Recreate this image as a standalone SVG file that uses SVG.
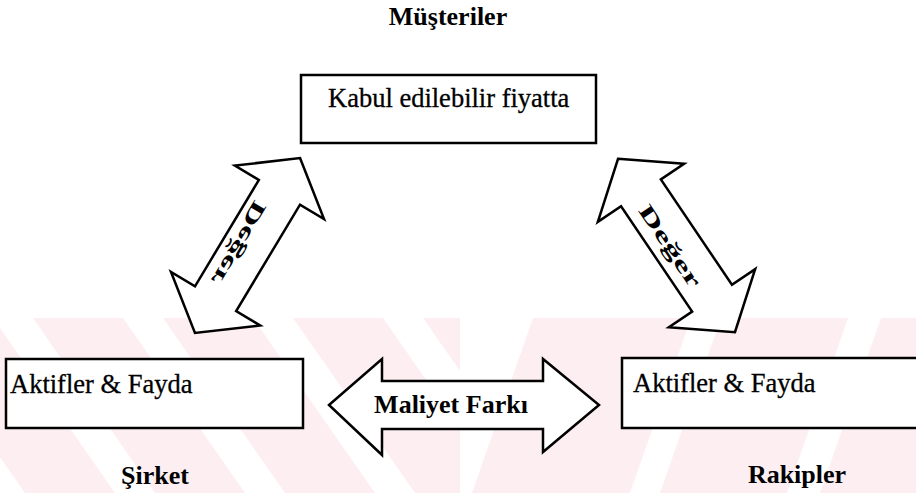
<svg xmlns="http://www.w3.org/2000/svg" width="916" height="493" viewBox="0 0 916 493">
<style>
.box{fill:#fff;stroke:#000;stroke-width:2.5}
.arr{fill:#fff;stroke:#000;stroke-width:2.5;stroke-linejoin:miter}
.t{font-family:"Liberation Serif","Times New Roman",serif;font-size:26.5px;fill:#000;stroke:#000;stroke-width:0.3}
.b{font-family:"Liberation Serif","Times New Roman",serif;font-size:26px;font-weight:bold;fill:#000}
.d{font-family:"Liberation Serif","Times New Roman",serif;font-size:21px;font-weight:bold;fill:#000}
.wm{fill:#fdeef1}
</style>
<defs>
<clipPath id="cl"><rect x="0" y="318" width="460" height="175"/></clipPath>
<clipPath id="cr"><rect x="460" y="318" width="456" height="175"/></clipPath>
<polygon id="dbl" points="-102,0 -62,-52 -62,-24 62,-24 62,-52 102,0 62,52 62,24 -62,24 -62,52"/>
</defs>
<rect width="916" height="493" fill="#fff"/>
<g id="watermark">
<g clip-path="url(#cl)">
<polygon class="wm" points="-97,318 -7,318 115,493 25,493"/>
<polygon class="wm" points="33,318 123,318 245,493 155,493"/>
<polygon class="wm" points="163,318 253,318 375,493 285,493"/>
<polygon class="wm" points="293,318 383,318 505,493 415,493"/>
<polygon class="wm" points="423,318 513,318 635,493 545,493"/>
</g>
<g clip-path="url(#cr)">
<polygon class="wm" points="533,318 691,318 630,493 472,493"/>
<polygon class="wm" points="721,318 848,318 787,493 660,493"/>
<polygon class="wm" points="881,318 1010,318 949,493 820,493"/>
</g>
</g>
<g id="title-musteriler"><text class="b" x="448" y="25" text-anchor="middle">Müşteriler</text></g>
<g id="node-kabul">
<rect class="box" x="301" y="75" width="295" height="68"/>
<text class="t" x="328" y="107">Kabul edilebilir fiyatta</text>
</g>
<g id="node-sirket">
<rect class="box" x="6" y="359" width="297" height="69"/>
<text class="t" x="10" y="393">Aktifler &amp; Fayda</text>
</g>
<g id="node-rakipler">
<rect class="box" x="622" y="358" width="300" height="70"/>
<text class="t" x="633" y="392">Aktifler &amp; Fayda</text>
</g>
<g id="label-sirket"><text class="b" x="155" y="484" text-anchor="middle">Şirket</text></g>
<g id="label-rakipler"><text class="b" x="797" y="483" text-anchor="middle">Rakipler</text></g>
<g id="connectors">
<g id="arrow-left">
<use href="#dbl" class="arr" transform="translate(247.5,245.5) rotate(121)"/>
<text class="d" transform="translate(237,242) scale(-1,1) rotate(59)" text-anchor="middle" y="7" textLength="92" lengthAdjust="spacingAndGlyphs">Değer</text>
</g>
<g id="arrow-right">
<use href="#dbl" class="arr" transform="translate(676.5,245.5) rotate(56) scale(1.025,1)"/>
<text class="d" transform="translate(670,246) rotate(56)" text-anchor="middle" y="7" textLength="95" lengthAdjust="spacingAndGlyphs">Değer</text>
</g>
<g id="arrow-maliyet">
<polygon class="arr" points="329,405 382,359 382,381 543,381 543,359 599,405 543,452 543,429 382,429 382,455"/>
<text class="b" x="451" y="413" text-anchor="middle">Maliyet Farkı</text>
</g>
</g>
</svg>
